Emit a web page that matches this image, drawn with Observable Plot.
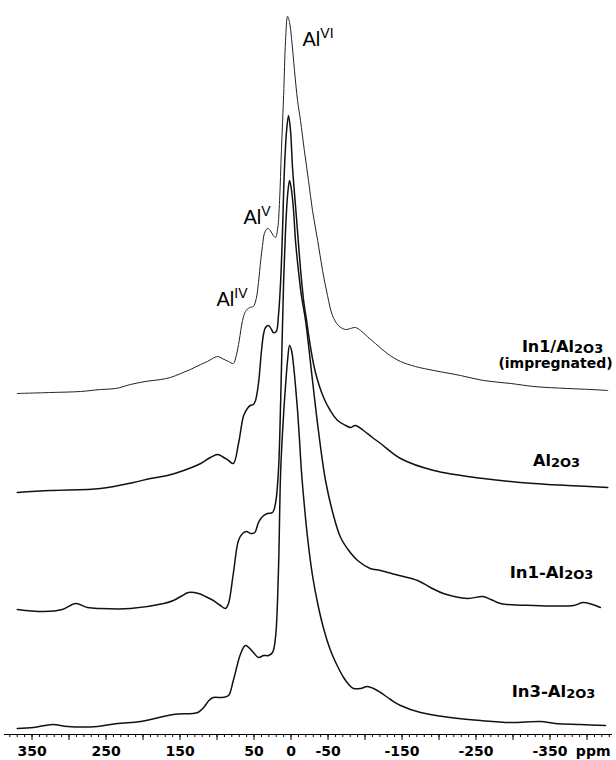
<!DOCTYPE html>
<html><head><meta charset="utf-8">
<script src="https://cdn.jsdelivr.net/npm/d3@7"></script>
<script src="https://cdn.jsdelivr.net/npm/@observablehq/plot@0.6"></script>
<style>body{margin:0;background:#fff}</style>
</head><body><div id="chart"></div>
<script>
// ---- data (ppm, intensity above each trace's own baseline) ----
const impregnatedPpm = [370,325,284.5,257.5,237,217,197,176,163,149,136,122,113,106,99,93,84.5,78,74,70,65.5,61.5,56,51,47,44,41,38.5,36,32,28,24,21,18,15.5,13,10,7.4,4.7,2,-0.7,-4.7,-8.8,-12.8,-18,-23.6,-29,-36,-42.6,-49.3,-56,-64,-73.6,-80.4,-87,-94,-103,-114,-130,-148,-168,-193,-229,-260,-297,-328,-374,-405,-428];
const impregnatedInt = [0,1,2,4,5,9,12,14,16,20,24,29,32,35,37,35,32,30,38,53,73,82,86,87,95,111,133,148,160,165,163,158,156,165,193,243,298,353,377,371,355,323,293,273,243,213,183,153,123,98,78,68,64,65,66,63,57,50,40,32,27,23,18,13,10,7,5,4,3];

const aluminaPpm = [370,325,257.5,213,190,167,145,122,109,99,91,84.5,78,71,64,59,55,51,48,44,39.9,37,34.5,30.4,26.4,24,20,17,14,11.5,9,6,3.4,0.7,-2,-6,-9,-13,-17,-21,-26.4,-33,-44,-53,-63,-74,-80,-87,-98,-110,-121,-148,-193,-260,-328,-374,-428];
const aluminaInt = [0,2,4,10,14,17,22,29,35,38,35,32,29,49,77,84,87,88,92,109,142,159,165,167,163,160,161,177,212,262,322,362,377,362,325,287,259,222,192,172,145,120,95,82,72,67,65,67,62,55,49,34,22,14,9,7,5];

const in1Ppm = [370,334.5,309,291,275,257.5,217,172,159,149,138.5,125,115.6,105,95.5,88.5,84.5,78,71,65.5,60,54.7,49,44,38.5,32,25,21,17,14,10,7.4,4.7,2,-0.7,-3.4,-6,-10,-14,-19.6,-29,-37,-46.6,-57.4,-67,-78,-90,-107,-121,-141,-171,-188.5,-206,-238.5,-259,-270,-283,-328,-382,-395,-418];
const in1Int = [0,-2,0,6,2,1,1,6,9,13,17,16,13,9,4,1,6,36,69,76,78,76,77,87,93,96,97,106,139,209,329,379,414,429,419,399,369,339,314,289,229,179,129,94,72,59,49,41,39,35,29,22,16,11,13,10,6,4,4,7,2];

const in3Ppm = [370,348,322,302,261.5,234.5,203,159,126,118,111,105,92.6,84.5,78,68,61.5,52,44,37,30.4,25,21,17,14,10,7.4,4.7,2,-0.7,-3.4,-6,-8.8,-11.5,-14,-18,-22.3,-29,-36,-44,-53.4,-63,-71,-78,-84.5,-94,-103,-111.5,-121,-134.5,-148,-175,-215.5,-256,-297,-337,-357,-391,-425];
const in3Int = [0,1,4,2,2,5,7,14,16,21,28,31,31,33,48,75,83,77,71,73,73,76,91,158,258,315,343,368,383,378,363,343,318,288,258,223,191,153,125,100,78,62,51,44,40,40,42,40,36,29,23,16,11,8,6,7,5,4,3];

const seriesOffsets = [341, 242, 125, 6];
const tickLabels = [350, 250, 150, 50, 0, -50, -150, -250, -350];
const majorTicks = [350, 300, 250, 200, 150, 100, 50, 0, -50, -100, -150, -200, -250, -300, -350, -400];

const peakLabelText = ["Al^VI", "Al^V", "Al^IV"];
const peakLabelPpm = [-15.5, 64.2, 100.7];
const peakLabelY = [689, 511, 429];

const seriesLabelText = ["In1/Al_2O_3", "(impregnated)", "Al_2O_3", "In1-Al_2O_3", "In3-Al_2O_3"];
const seriesLabelPpm = [-366.9, -357.4, -358.8, -352, -354.7];
const seriesLabelY = [388, 371, 274, 162, 43];
const seriesLabelSize = [16, 14, 16, 16.5, 16.5];

// ---- build tables ----
const traces = [
  [impregnatedPpm, impregnatedInt],
  [aluminaPpm, aluminaInt],
  [in1Ppm, in1Int],
  [in3Ppm, in3Int]
].map(([p, v], i) => p.map((ppm, j) => ({ppm, y: v[j] + seriesOffsets[i], s: i})));
const minorTicks = d3.range(-430, 390, 10);
const peakLabels = peakLabelText.map((t, i) => ({t, ppm: peakLabelPpm[i], y: peakLabelY[i]}));
const seriesLabels = seriesLabelText.map((t, i) => ({t, ppm: seriesLabelPpm[i], y: seriesLabelY[i], size: seriesLabelSize[i]}));

const font = "DejaVu Sans";
const chart = Plot.plot({
  width: 616,
  height: 760,
  marginLeft: 4,
  marginRight: 4,
  marginTop: 4,
  marginBottom: 26,
  x: {domain: [387.2, -434.4]},
  y: {domain: [0, 730], axis: null},
  style: {fontFamily: font, background: "#fff", color: "#000"},
  marks: [
    Plot.ruleY([0], {stroke: "#000", strokeWidth: 1.2}),
    Plot.axisX(minorTicks, {tickSize: 3, fill: "none", stroke: "#000", label: null}),
    Plot.axisX(majorTicks, {tickSize: 6, fill: "none", stroke: "#000", label: null}),
    Plot.axisX(tickLabels, {tickSize: 0, tickPadding: 12, tickFormat: d => String(d), fontSize: 14, fontWeight: "bold", fontFamily: font, fill: "#000", label: null}),
    Plot.text(["ppm"], {frameAnchor: "bottom-right", textAnchor: "end", lineAnchor: "top", dy: 12, dx: -2, fontSize: 14, fontWeight: "bold", fill: "#000"}),
    ...traces.map((t, i) => Plot.line(t, {x: "ppm", y: "y", curve: "catmull-rom", stroke: i === 0 ? "#222" : "#111", strokeWidth: i === 0 ? 1 : 1.5})),
    Plot.text(peakLabels, {x: "ppm", y: "y", text: "t", textAnchor: "start", lineAnchor: "bottom", fontSize: 20, fontFamily: "Liberation Sans", fill: "#000"}),
    Plot.text(seriesLabels, {x: "ppm", y: "y", text: "t", textAnchor: "middle", lineAnchor: "middle", fontSize: "size", fontWeight: "bold", fill: "#000"})
  ]
});
document.getElementById("chart").appendChild(chart);

// rich text: ^ = superscript, _ = subscript (small digit on baseline)
chart.querySelectorAll("text").forEach(el => {
  const s = el.textContent;
  if (!/[\^_]/.test(s)) return;
  const parts = s.split(/([\^_][A-Z0-9]+)/).filter(x => x);
  el.textContent = "";
  let shift = 0;
  parts.forEach(p => {
    const ts = document.createElementNS("http://www.w3.org/2000/svg", "tspan");
    if (p[0] === "^") {
      ts.textContent = p.slice(1);
      ts.setAttribute("font-size", "14");
      ts.setAttribute("dy", String(-8 - shift)); shift = -8;
    } else if (p[0] === "_") {
      ts.textContent = p.slice(1);
      ts.setAttribute("font-size", "13");
      ts.setAttribute("dy", String(1 - shift)); shift = 1;
    } else {
      ts.textContent = p;
      ts.setAttribute("dy", String(-shift)); shift = 0;
    }
    el.appendChild(ts);
  });
});
</script>
</body></html>
